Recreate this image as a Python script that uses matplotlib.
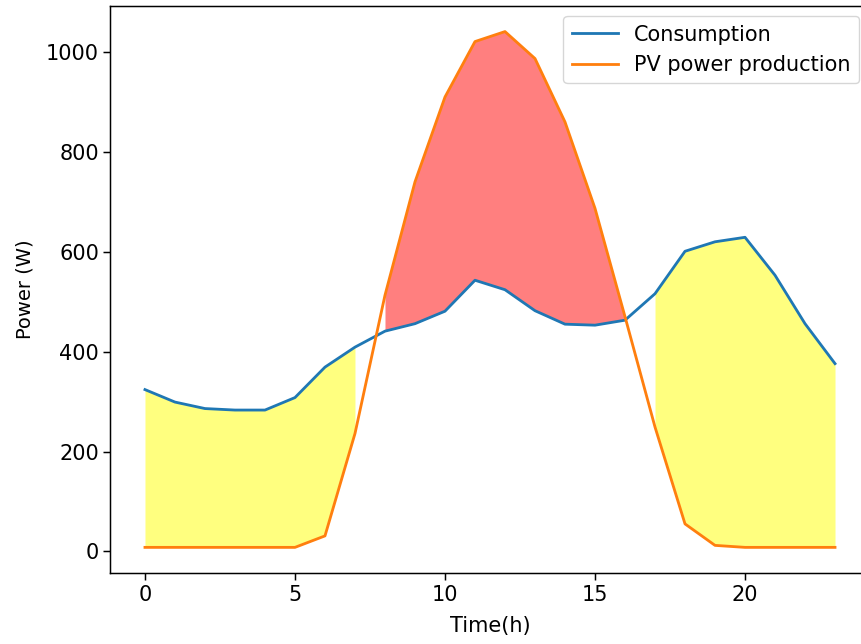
import numpy as np
import matplotlib
matplotlib.use('Agg')
import matplotlib.pyplot as plt

hours = np.arange(24)
consumption = np.array([324, 299, 286, 283, 283, 308, 369, 409, 441, 456, 481, 543,
                        524, 482, 455, 453, 463, 516, 601, 620, 629, 553, 456, 376])
pv = np.array([8, 8, 8, 8, 8, 8, 31, 236, 513, 740, 910, 1021,
               1041, 987, 860, 687, 470, 249, 55, 12, 8, 8, 8, 8])

S = 1.345  # scale from the 640x480 original
plt.rcParams['font.size'] = 15

fig = plt.figure(figsize=(8.61, 6.44), dpi=100)
ax = fig.add_axes([0.1283, 0.110, 0.8816, 0.881])

ax.plot(hours, consumption, color='tab:blue', lw=1.5 * S, label='Consumption', zorder=3)
ax.plot(hours, pv, color='tab:orange', lw=1.5 * S, label='PV power production', zorder=3)

ax.fill_between(hours[:8], consumption[:8], pv[:8], color='yellow', alpha=0.5, lw=0, zorder=1)
ax.fill_between(hours[17:], consumption[17:], pv[17:], color='yellow', alpha=0.5, lw=0, zorder=1)
ax.fill_between(hours[8:17], pv[8:17], consumption[8:17], color='red', alpha=0.5, lw=0, zorder=1)

ax.set_xlabel('Time(h)', labelpad=8)
ax.set_ylabel('Power (W)', fontsize=14, labelpad=8)
ax.tick_params(width=0.8 * S, length=3.5 * S)
for sp in ax.spines.values():
    sp.set_linewidth(0.8 * S)
ax.legend(loc='upper right', handlelength=2.2)

fig.savefig('out.png', dpi=100)
